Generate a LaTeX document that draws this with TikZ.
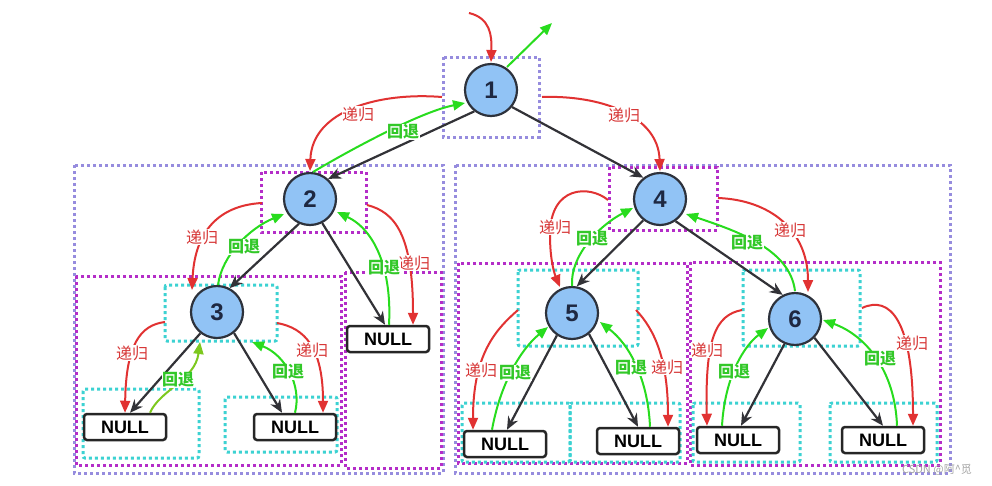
\documentclass[tikz,border=0pt]{standalone}
\usepackage{fontspec}
\setmainfont{Liberation Sans}
\newfontfamily\cjk{Noto Sans CJK SC}
\usetikzlibrary{arrows.meta,calc}
\definecolor{lav}{RGB}{150,140,222}
\definecolor{magc}{RGB}{180,45,200}
\definecolor{cyc}{RGB}{60,210,210}
\definecolor{redl}{RGB}{225,50,50}
\definecolor{redt}{RGB}{215,55,55}
\definecolor{grn}{RGB}{40,220,30}
\definecolor{grnt}{RGB}{50,200,40}
\definecolor{ygrn}{RGB}{125,200,30}
\definecolor{nodefill}{RGB}{145,195,245}
\definecolor{nodeline}{RGB}{45,50,60}
\definecolor{numc}{RGB}{30,40,65}
\definecolor{edgec}{RGB}{50,50,55}
\definecolor{wm}{RGB}{165,165,165}
\begin{document}
\begin{tikzpicture}[x=1pt,y=-1pt,
  dotbox/.style={line width=3pt, dash pattern=on 3pt off 3pt},
  lavbox/.style={dotbox, draw=lav},
  magbox/.style={dotbox, draw=magc},
  cybox/.style={dotbox, draw=cyc, rounded corners=2pt},
  circ/.style={circle, draw=nodeline, fill=nodefill, line width=2.2pt, minimum size=52pt, inner sep=0pt, text=numc, font=\fontsize{24}{24}\selectfont\bfseries},
  nullbox/.style={draw=black!85, fill=white, rounded corners=3pt, line width=2.5pt, minimum width=82pt, minimum height=26pt, inner sep=0pt, font=\fontsize{18}{18}\selectfont\bfseries},
  edge/.style={draw=edgec, line width=2.2pt, -{Stealth[length=13pt,width=11pt]}},
  rec/.style={draw=redl, line width=2pt, -{Triangle[length=12pt,width=10pt]}},
  bak/.style={draw=grn, line width=2pt, -{Triangle[length=12pt,width=10pt]}},
  lblr/.style={text=redt, fill=white, inner sep=0.5pt, font=\cjk\fontsize{16}{16}\selectfont},
  lblg/.style={text=grnt, fill=white, inner sep=0.5pt, font=\cjk\fontsize{16}{16}\selectfont\bfseries}
]
\fill[white] (0,0) rectangle (992,485);
\path[use as bounding box] (0,0) rectangle (992,485);

% dotted boxes
\draw[lavbox] (443,57) rectangle (539,137);
\draw[lavbox] (74,165) rectangle (443,473);
\draw[lavbox] (455,165) rectangle (950,473);
\draw[magbox] (261,172) rectangle (366,232);
\draw[magbox] (76,276) rectangle (341,465);
\draw[magbox] (345,272) rectangle (441,468);
\draw[magbox] (609,167) rectangle (717,230);
\draw[magbox] (458,263) rectangle (687,463);
\draw[magbox] (690,262) rectangle (940,465);
\draw[cybox] (165,285) rectangle (277,341);
\draw[cybox] (518,270) rectangle (638,346);
\draw[cybox] (743,270) rectangle (860,346);
\draw[cybox] (83,389) rectangle (199,458);
\draw[cybox] (225,397) rectangle (337,452);
\draw[cybox] (462,403) rectangle (570,462);
\draw[cybox] (570,403) rectangle (680,462);
\draw[cybox] (693,403) rectangle (800,462);
\draw[cybox] (830,403) rectangle (937,462);

% nodes
\node[circ] (n1) at (491,90) {1};
\node[circ] (n2) at (310,199) {2};
\node[circ] (n3) at (217,312) {3};
\node[circ] (n4) at (660,199) {4};
\node[circ] (n5) at (572,313) {5};
\node[circ] (n6) at (795,319) {6};
\node[nullbox] (na) at (388,339) {NULL};
\node[nullbox] (n3l) at (125,427) {NULL};
\node[nullbox] (n3r) at (295,427) {NULL};
\node[nullbox] (n5l) at (505,444) {NULL};
\node[nullbox] (n5r) at (638,441) {NULL};
\node[nullbox] (n6l) at (738,440) {NULL};
\node[nullbox] (n6r) at (883,440) {NULL};

% free ends
\coordinate (top) at (469,13);
\coordinate (out) at (552,23);
\coordinate (s12) at (442,97);
\coordinate (s14) at (542,97);
\coordinate (s2a) at (367,205);
\coordinate (s23) at (262,203);
\coordinate (s33l) at (165,322);
\coordinate (s33r) at (277,323);
\coordinate (s45) at (608,200);
\coordinate (s46) at (718,198);
\coordinate (s55l) at (518,310);
\coordinate (s55r) at (636,310);
\coordinate (s66l) at (742,310);
\coordinate (s66r) at (862,308);

% black edges
\draw[edge] (n1.232) -- (n2.48);
\draw[edge] (n1.321) -- (n4.128);
\draw[edge] (n2.246) -- (n3.62);
\draw[edge] (n2.297) -- ($(na.north)+(-3,0)$);
\draw[edge] (n3.232) -- ($(n3l.north)+(5,0)$);
\draw[edge] (n3.309) -- ($(n3r.north)+(-13,0)$);
\draw[edge] (n4.232) -- (n5.80);
\draw[edge] (n4.305) -- (n6.117);
\draw[edge] (n5.236) -- ($(n5l.north)+(2,0)$);
\draw[edge] (n5.309) -- (n5r.north);
\draw[edge] (n6.247) -- ($(n6l.north)+(3,0)$);
\draw[edge] (n6.316) -- (n6r.north);

% recursion (red)
\draw[rec] (top) .. controls (490,18) and (492,35) .. ($(n1)+(0,-28)$);
\draw[rec] (s12) .. controls (380,92) and (312,110) .. ($(n2)+(0,-28)$);
\draw[rec] (s14) .. controls (600,95) and (658,115) .. ($(n4)+(0,-28)$);
\draw[rec] (s2a) .. controls (395,212) and (413,235) .. ($(na.north)+(25,0)$);
\draw[rec] (s23) .. controls (225,205) and (195,225) .. ($(n3)+(-25,-22)$);
\draw[rec] (s33l) .. controls (140,325) and (126,345) .. (n3l.north);
\draw[rec] (s33r) .. controls (305,328) and (323,348) .. ($(n3r.north)+(28,0)$);
\draw[rec] (s45) .. controls (590,185) and (550,185) .. (550,235) .. controls (550,262) and (555,275) .. ($(n5)+(-12,-26)$);
\draw[rec] (s46) .. controls (770,200) and (808,230) .. ($(n6)+(13,-27)$);
\draw[rec] (s55l) .. controls (495,330) and (473,355) .. ($(n5l.north)+(-32,0)$);
\draw[rec] (s55r) .. controls (655,330) and (668,360) .. ($(n5r.north)+(30,0)$);
\draw[rec] (s66l) .. controls (715,315) and (705,340) .. ($(n6l.north)+(-31,0)$);
\draw[rec] (s66r) .. controls (890,295) and (913,320) .. ($(n6r.north)+(30,0)$);

% backtrack (green)
\draw[bak] ($(n1)+(16,-23)$) -- (out);
\draw[bak] ($(n2)+(3,-27)$) .. controls (350,150) and (420,112) .. ($(n1)+(-26,13)$);
\draw[bak] ($(na.north)+(1,0)$) .. controls (392,270) and (375,230) .. ($(n2)+(27,13)$);
\draw[bak] ($(n3)+(1,-27)$) .. controls (222,255) and (250,228) .. ($(n2)+(-26,15)$);
\draw[bak, draw=ygrn] ($(n3l.north)+(25,0)$) .. controls (160,390) and (195,380) .. ($(n3)+(-17,30)$);
\draw[bak] (n3r.north) .. controls (302,385) and (285,355) .. ($(n3)+(35,30)$);
\draw[bak] ($(n5)+(0,-27)$) .. controls (570,255) and (600,225) .. ($(n4)+(-27,9)$);
\draw[bak] ($(n6)+(0,-28)$) .. controls (790,250) and (740,232) .. ($(n4)+(26,15)$);
\draw[bak] ($(n5l.north)+(-13,0)$) .. controls (500,385) and (520,350) .. ($(n5)+(-24,14)$);
\draw[bak] ($(n5r.north)+(12,0)$) .. controls (648,380) and (630,345) .. ($(n5)+(28,9)$);
\draw[bak] ($(n6l.north)+(-16,0)$) .. controls (725,375) and (745,345) .. ($(n6)+(-27,9)$);
\draw[bak] ($(n6r.north)+(14,0)$) .. controls (895,370) and (865,335) .. ($(n6)+(28,1)$);

% labels
\node[lblr] (r1) at (358,114) {递归};
\node[lblr] (r2) at (624,115) {递归};
\node[lblr] (r3) at (202,237) {递归};
\node[lblr] (r4) at (414,263) {递归};
\node[lblr] (r5) at (132,353) {递归};
\node[lblr] (r6) at (312,350) {递归};
\node[lblr] (r7) at (555,227) {递归};
\node[lblr] (r8) at (790,230) {递归};
\node[lblr] (r9) at (481,370) {递归};
\node[lblr] (r10) at (667,367) {递归};
\node[lblr] (r11) at (707,350) {递归};
\node[lblr] (r12) at (912,343) {递归};
\node[lblg] (g1) at (403,132) {回退};
\node[lblg] (g2) at (244,247) {回退};
\node[lblg] (g3) at (384,268) {回退};
\node[lblg] (g4) at (178,380) {回退};
\node[lblg] (g5) at (288,372) {回退};
\node[lblg] (g6) at (592,239) {回退};
\node[lblg] (g7) at (747,243) {回退};
\node[lblg] (g8) at (515,373) {回退};
\node[lblg] (g9) at (631,368) {回退};
\node[lblg] (g10) at (734,372) {回退};
\node[lblg] (g11) at (880,359) {回退};

\node[text=wm, font=\cjk\fontsize{11}{11}\selectfont, inner sep=0pt] (wmk) at (937,470) {CSDN @阿\textasciicircum 觅};
\end{tikzpicture}
\end{document}
